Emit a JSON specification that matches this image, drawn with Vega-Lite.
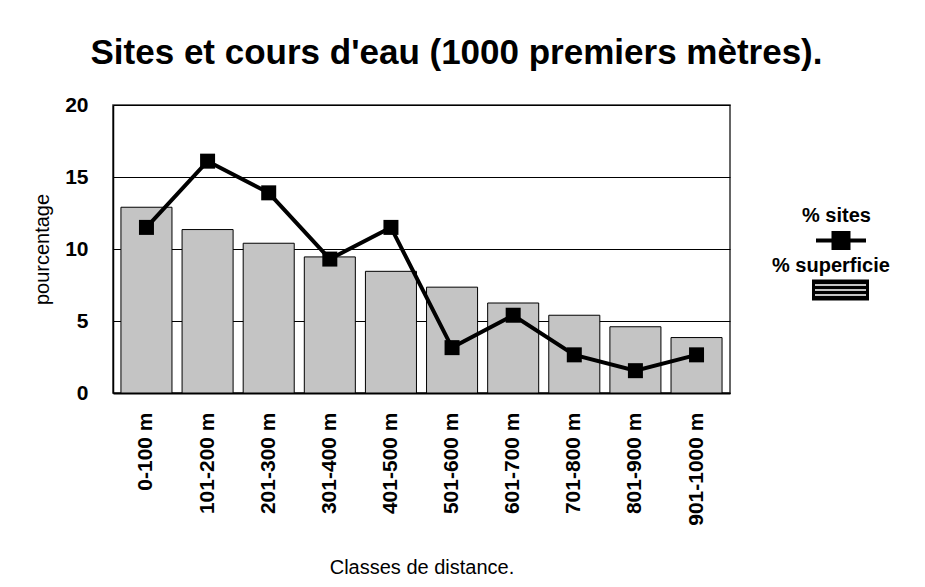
{
  "$schema": "https://vega.github.io/schema/vega-lite/v6.json",
  "width": 617,
  "height": 288,
  "autosize": {"type": "none"},
  "padding": {"left": 113, "top": 105, "right": 195, "bottom": 194},
  "background": "white",
  "title": {
    "text": "Sites et cours d'eau (1000 premiers mètres).",
    "font": "Liberation Sans",
    "fontSize": 35,
    "fontWeight": "bold",
    "color": "black",
    "anchor": "middle",
    "frame": "group",
    "dx": 35,
    "offset": 23
  },
  "data": {
    "values": [
      {"classe": "0-100 m", "superficie": 12.9, "sites": 11.5},
      {"classe": "101-200 m", "superficie": 11.35, "sites": 16.1},
      {"classe": "201-300 m", "superficie": 10.4, "sites": 13.9},
      {"classe": "301-400 m", "superficie": 9.45, "sites": 9.3},
      {"classe": "401-500 m", "superficie": 8.45, "sites": 11.5},
      {"classe": "501-600 m", "superficie": 7.35, "sites": 3.15},
      {"classe": "601-700 m", "superficie": 6.25, "sites": 5.4},
      {"classe": "701-800 m", "superficie": 5.4, "sites": 2.65},
      {"classe": "801-900 m", "superficie": 4.6, "sites": 1.55},
      {"classe": "901-1000 m", "superficie": 3.85, "sites": 2.65}
    ]
  },
  "encoding": {
    "x": {
      "field": "classe",
      "type": "nominal",
      "sort": null,
      "scale": {"paddingInner": 0.165, "paddingOuter": 0.13},
      "axis": {
        "title": "Classes de distance.",
        "labelAngle": -90,
        "labelFont": "Liberation Sans",
        "labelFontSize": 21,
        "labelFontWeight": "bold",
        "labelColor": "black",
        "labelPadding": 19,
        "ticks": false,
        "domainColor": "black",
        "domainWidth": 2,
        "titleFont": "Liberation Sans",
        "titleFontSize": 20,
        "titleFontWeight": "normal",
        "titleColor": "black",
        "titlePadding": 32,
        "grid": false
      }
    }
  },
  "layer": [
    {
      "mark": {"type": "bar", "fill": "#c4c4c4", "strokeWidth": 1},
      "encoding": {
        "y": {
          "field": "superficie",
          "type": "quantitative",
          "title": "pourcentage",
          "scale": {"domain": [0, 20], "nice": false},
          "axis": {
            "values": [0, 5, 10, 15, 20],
            "labelFont": "Liberation Sans",
            "labelFontSize": 21,
            "labelFontWeight": "bold",
            "labelColor": "black",
            "labelPadding": 25,
            "ticks": false,
            "domainColor": "black",
            "domainWidth": 1.5,
            "grid": true,
            "gridColor": "black",
            "gridWidth": 1,
            "gridOpacity": 1,
            "titleFont": "Liberation Sans",
            "titleFontSize": 20,
            "titleFontWeight": "normal",
            "titleColor": "black",
            "titlePadding": 12
          }
        },
        "stroke": {
          "datum": "% superficie",
          "scale": {"range": ["black"]},
          "legend": {
            "title": "% superficie",
            "orient": "none",
            "legendX": 659,
            "legendY": 150.5,
            "padding": 0,
            "titleFont": "Liberation Sans",
            "titleFontSize": 20,
            "titleFontWeight": "bold",
            "titleColor": "black",
            "titleAnchor": "start",
            "titlePadding": 3,
            "labelExpr": "''",
            "labelFontSize": 1,
            "labelOffset": 0,
            "symbolType": "M-2.7,-0.9H2.7V0.9H-2.7Z M-2.7,-0.75H2.7M-2.7,-0.25H2.7M-2.7,0.25H2.7M-2.7,0.75H2.7",
            "symbolSize": 400,
            "symbolStrokeWidth": 3,
            "symbolFillColor": "white",
            "symbolOffset": 57
          }
        }
      }
    },
    {
      "mark": {"type": "line", "strokeWidth": 4},
      "encoding": {
        "y": {"field": "sites", "type": "quantitative", "title": "pourcentage"},
        "stroke": {
          "datum": "% sites",
          "scale": {"range": ["black"]},
          "legend": {
            "title": "% sites",
            "orient": "none",
            "legendX": 689,
            "legendY": 100.5,
            "padding": 0,
            "titleFont": "Liberation Sans",
            "titleFontSize": 20,
            "titleFontWeight": "bold",
            "titleColor": "black",
            "titleAnchor": "start",
            "titlePadding": 3,
            "labelExpr": "''",
            "labelFontSize": 1,
            "labelOffset": 0,
            "symbolType": "M-2.5,0H2.5M-0.75,-0.75H0.75V0.75H-0.75Z",
            "symbolSize": 400,
            "symbolStrokeWidth": 4,
            "symbolFillColor": "black",
            "symbolOffset": 27
          }
        }
      }
    },
    {
      "mark": {"type": "point", "shape": "square", "size": 225, "filled": true, "color": "black", "opacity": 1},
      "encoding": {
        "y": {"field": "sites", "type": "quantitative", "title": "pourcentage"}
      }
    }
  ],
  "resolve": {"scale": {"stroke": "independent"}, "legend": {"stroke": "independent"}},
  "config": {
    "view": {"stroke": "#333333", "strokeWidth": 1.5},
    "font": "Liberation Sans"
  }
}
